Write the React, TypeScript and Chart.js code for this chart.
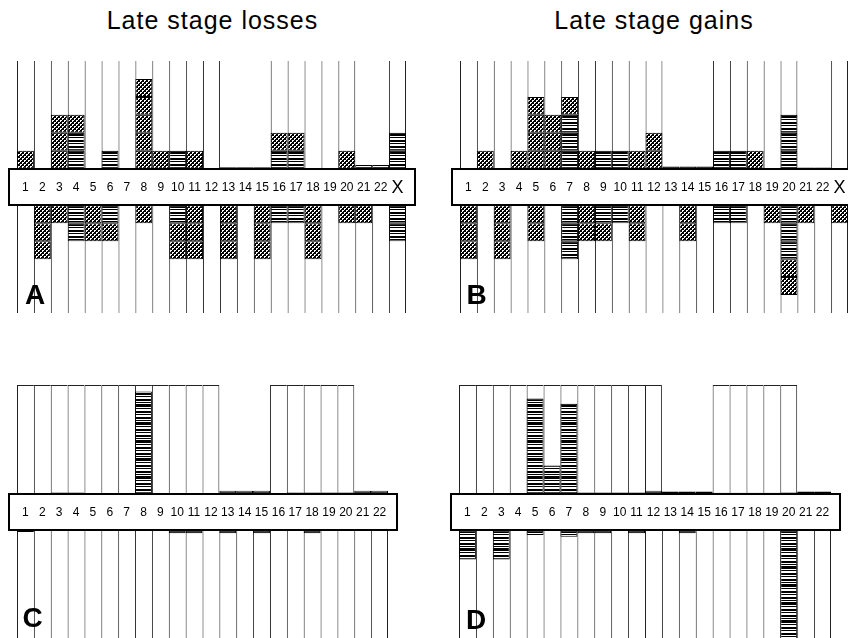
import React, { useEffect, useRef } from "react";
import { Chart, registerables } from "chart.js";

Chart.register(...registerables);

// ---------- data ----------
const LABELS_WITH_X = ["1","2","3","4","5","6","7","8","9","10","11","12","13","14","15","16","17","18","19","20","21","22","X"];
const LABELS_AUTO = ["1","2","3","4","5","6","7","8","9","10","11","12","13","14","15","16","17","18","19","20","21","22"];
const ACROCENTRIC = ["13","14","15","21","22"];

const TITLE_LEFT = "Late stage losses";
const TITLE_RIGHT = "Late stage gains";

// Panel A (late stage losses) – counts of cases
const A_UP_STRIPE   = [0,0,0,2,0,1,0,0,0,1,0,0,0.08,0.08,0.08,1,1,0,0,0,0.2,0.2,2];
const A_UP_HATCH    = [1,0,3,1,0,0,0,5,1,0,1,0,0,0,0,1,1,0,0,1,0,0,0];
const A_DOWN_STRIPE = [0,0,0,2,0,1,0,0,0,1,0,0,0,0,0,1,1,0,0,0,0,0,2];
const A_DOWN_HATCH  = [0,3,1,0,2,1,0,1,0,2,3,0,3,0,3,0,0,3,0,1,1,0,0];

// Panel B (late stage gains)
const B_UP_STRIPE   = [0,0,0,0,0,0,3,0,1,1,0,0,0.12,0.12,0.12,1,1,0,0,3,0.06,0.06,0];
const B_UP_HATCH    = [0,1,0,1,4,3,1,1,0,0,1,2,0,0,0,0,0,1,0,0,0,0,0];
const B_DOWN_STRIPE = [0,0,0,0,0,0,3,0,1,1,0,0,0,0,0,1,1,0,0,3,0,0,0];
const B_DOWN_HATCH  = [3,0,3,0,2,0,0,2,1,0,2,0,0,2,0,0,0,0,1,2,1,0,1];

// Panel C (losses)
const C_UP_STRIPE   = [0,0,0.06,0.06,0,0,0,5.64,0,0,0,0,0.15,0.15,0.15,0,0.06,0.06,0.06,0.06,0.15,0.15];
const C_UP_HATCH    = [0,0,0,0,0,0,0,0,0,0,0,0,0,0,0,0,0,0,0,0,0,0];
const C_DOWN_STRIPE = [0.08,0,0,0,0,0,0,0,0,0.15,0.15,0,0.15,0,0.15,0,0,0.15,0,0,0,0];
const C_DOWN_HATCH  = [0,0,0,0,0,0,0,0,0,0,0,0,0,0,0,0,0,0,0,0,0,0];

// Panel D (gains)
const D_UP_STRIPE   = [0,0,0,0,5.25,1.55,4.97,0.06,0.06,0.06,0.06,0.15,0.12,0.12,0.12,0.04,0.04,0.04,0.04,0.06,0.12,0.12];
const D_UP_HATCH    = [0,0,0,0,0,0,0,0,0,0,0,0,0,0,0,0,0,0,0,0,0,0];
const D_DOWN_STRIPE = [1.6,0,1.6,0,0.25,0,0.35,0.15,0.15,0,0.15,0,0,0.15,0,0,0,0,0,6,0,0];
const D_DOWN_HATCH  = [0,0,0,0,0,0,0,0,0,0,0,0,0,0,0,0,0,0,0,0,0,0];

// ---------- geometry ----------
const BOX = 1.02; // half height of label box, in case units
const ARM = 6;    // arm length, in case units
const FONT = '"Liberation Sans", Arial, Helvetica, sans-serif';

type Panel = {
  letter: string;
  labels: string[];
  upStripe: number[]; upHatch: number[]; downStripe: number[]; downHatch: number[];
  topLine: boolean;
  unitBlocks: boolean;
  canvas: { left: number; top: number; width: number; height: number };
  area: { left: number; top: number; right: number; bottom: number };
  letterPos: { x: number; y: number };
};

const PANELS: Panel[] = [
  {
    letter: "A", labels: LABELS_WITH_X,
    upStripe: A_UP_STRIPE, upHatch: A_UP_HATCH, downStripe: A_DOWN_STRIPE, downHatch: A_DOWN_HATCH,
    topLine: false, unitBlocks: true,
    canvas: { left: 0, top: 50, width: 430, height: 275 },
    area: { left: 17, top: 61, right: 406, bottom: 313 },
    letterPos: { x: 35, y: 305 },
  },
  {
    letter: "B", labels: LABELS_WITH_X,
    upStripe: B_UP_STRIPE, upHatch: B_UP_HATCH, downStripe: B_DOWN_STRIPE, downHatch: B_DOWN_HATCH,
    topLine: false, unitBlocks: true,
    canvas: { left: 440, top: 50, width: 420, height: 275 },
    area: { left: 460, top: 61, right: 848, bottom: 313 },
    letterPos: { x: 476.5, y: 305 },
  },
  {
    letter: "C", labels: LABELS_AUTO,
    upStripe: C_UP_STRIPE, upHatch: C_UP_HATCH, downStripe: C_DOWN_STRIPE, downHatch: C_DOWN_HATCH,
    topLine: true, unitBlocks: false,
    canvas: { left: 0, top: 375, width: 410, height: 270 },
    area: { left: 17, top: 385, right: 388, bottom: 639 },
    letterPos: { x: 32.5, y: 628 },
  },
  {
    letter: "D", labels: LABELS_AUTO,
    upStripe: D_UP_STRIPE, upHatch: D_UP_HATCH, downStripe: D_DOWN_STRIPE, downHatch: D_DOWN_HATCH,
    topLine: true, unitBlocks: false,
    canvas: { left: 440, top: 375, width: 410, height: 270 },
    area: { left: 459, top: 385, right: 831, bottom: 639 },
    letterPos: { x: 476, y: 630 },
  },
];

// ---------- patterns ----------
function makeHatch(ctx: CanvasRenderingContext2D): CanvasPattern | string {
  const t = document.createElement("canvas");
  t.width = 4; t.height = 4;
  const c = t.getContext("2d")!;
  c.fillStyle = "#fff"; c.fillRect(0, 0, 4, 4);
  c.fillStyle = "#000";
  for (let y = 0; y < 4; y++) for (let x = 0; x < 4; x++) {
    if ((x + y) % 4 < 2 || (x - y + 8) % 4 === 0) c.fillRect(x, y, 1, 1);
  }
  return ctx.createPattern(t, "repeat") || "#555";
}

function makeStripe(ctx: CanvasRenderingContext2D): CanvasPattern | string {
  const rows = [1,1,0,1,0,0,1,1,0,1,0,1,1,1,0,1,0,0];
  const t = document.createElement("canvas");
  t.width = 4; t.height = rows.length;
  const c = t.getContext("2d")!;
  c.fillStyle = "#fff"; c.fillRect(0, 0, 4, rows.length);
  c.fillStyle = "#000";
  rows.forEach((r, i) => { if (r) c.fillRect(0, i, 4, 1); });
  return ctx.createPattern(t, "repeat") || "#333";
}

type Block = { lo: number; hi: number; kind: "s" | "h" };

function blocksFor(stripe: number, hatch: number, unit: boolean): Block[] {
  const out: Block[] = [];
  let pos = 0;
  const push = (len: number, kind: "s" | "h") => {
    let rem = len;
    while (rem > 1e-6) {
      const step = unit ? Math.min(1, rem) : rem;
      out.push({ lo: pos, hi: pos + step, kind });
      pos += step; rem -= step;
    }
  };
  push(stripe, "s");
  push(hatch, "h");
  return out;
}

function PanelChart({ p }: { p: Panel }) {
  const ref = useRef<HTMLCanvasElement | null>(null);
  useEffect(() => {
    const canvas = ref.current!;
    const ctx = canvas.getContext("2d")!;
    const hatch = makeHatch(ctx);
    const stripe = makeStripe(ctx);
    const n = p.labels.length;
    const hasTop = p.labels.map((l) => !ACROCENTRIC.includes(l));

    const common = {
      type: "bar" as const,
      barPercentage: 1,
      categoryPercentage: 1,
      grouped: false,
      borderSkipped: false,
      inflateAmount: 0,
    };

    const datasets: any[] = [];
    // background chromosome columns (p arm above, q arm below)
    datasets.push({
      ...common,
      data: p.labels.map((_, i) => (hasTop[i] ? [BOX, BOX + ARM] : null)),
      backgroundColor: "#fff",
      borderColor: "#222",
      borderWidth: (c: any) => {
        const i = c.dataIndex;
        const nextMissing = i === n - 1 || !hasTop[i + 1];
        return { left: 1, right: nextMissing ? 1 : 0, top: p.topLine ? 1 : 0, bottom: 0 };
      },
      order: 10,
    });
    datasets.push({
      ...common,
      data: p.labels.map(() => [-(BOX + ARM), -BOX]),
      backgroundColor: "#fff",
      borderColor: "#222",
      borderWidth: (c: any) => ({ left: 1, right: c.dataIndex === n - 1 ? 1 : 0, top: 0, bottom: 0 }),
      order: 10,
    });

    const dirs: { sign: 1 | -1; s: number[]; h: number[] }[] = [
      { sign: 1, s: p.upStripe, h: p.upHatch },
      { sign: -1, s: p.downStripe, h: p.downHatch },
    ];
    for (const d of dirs) {
      const cols = p.labels.map((_, i) => blocksFor(d.s[i] || 0, d.h[i] || 0, p.unitBlocks));
      const levels = Math.max(0, ...cols.map((c) => c.length));
      for (let j = 0; j < levels; j++) {
        datasets.push({
          ...common,
          data: cols.map((c) => {
            const b = c[j];
            if (!b) return null;
            return d.sign > 0 ? [BOX + b.lo, BOX + b.hi] : [-(BOX + b.hi), -(BOX + b.lo)];
          }),
          backgroundColor: cols.map((c) => (c[j] ? (c[j].kind === "h" ? hatch : stripe) : "#fff")),
          borderColor: "#000",
          borderWidth: 1,
          order: 1,
        });
      }
    }

    const boxPlugin = {
      id: "labelBox" + p.letter,
      afterDatasetsDraw(chart: any) {
        const g = chart.ctx as CanvasRenderingContext2D;
        const area = chart.chartArea;
        const ys = chart.scales.y;
        const xs = chart.scales.x;
        const y0 = Math.round(ys.getPixelForValue(BOX));
        const y1 = Math.round(ys.getPixelForValue(-BOX));
        const x0 = Math.round(area.left - 8);
        const x1 = Math.round(area.right + 9);
        g.save();
        g.fillStyle = "#fff";
        g.fillRect(x0, y0, x1 - x0, y1 - y0);
        g.strokeStyle = "#000";
        g.lineWidth = 2;
        g.strokeRect(x0, y0, x1 - x0, y1 - y0);
        g.fillStyle = "#000";
        g.textAlign = "center";
        g.textBaseline = "middle";
        const cy = (y0 + y1) / 2 + 1;
        p.labels.forEach((lab, i) => {
          const x = xs.getPixelForValue(i);
          if (lab === "X") {
            g.font = `18px ${FONT}`;
            g.fillText(lab, x, cy);
          } else {
            g.font = `12px ${FONT}`;
            g.fillText(lab, x, cy);
          }
        });
        g.restore();
      },
    };

    const chart = new Chart(canvas, {
      type: "bar",
      data: { labels: p.labels, datasets },
      options: {
        responsive: false,
        animation: false,
        devicePixelRatio: 1,
        events: [],
        layout: {
          padding: {
            left: p.area.left - p.canvas.left,
            right: p.canvas.left + p.canvas.width - p.area.right,
            top: p.area.top - p.canvas.top,
            bottom: p.canvas.top + p.canvas.height - p.area.bottom,
          },
        },
        plugins: { legend: { display: false }, tooltip: { enabled: false } },
        scales: {
          x: { type: "category", display: false, offset: true },
          y: { type: "linear", display: false, min: -(BOX + ARM), max: BOX + ARM },
        },
      } as any,
      plugins: [boxPlugin],
    });
    return () => chart.destroy();
  }, [p]);

  return (
    <canvas
      ref={ref}
      width={p.canvas.width}
      height={p.canvas.height}
      style={{ position: "absolute", left: p.canvas.left, top: p.canvas.top, width: p.canvas.width, height: p.canvas.height }}
    />
  );
}

export default function App() {
  const titleStyle: React.CSSProperties = {
    position: "absolute", top: 8, width: 400, textAlign: "center",
    fontFamily: FONT, fontSize: 25, lineHeight: "25px", letterSpacing: 1, color: "#000",
  };
  return (
    <div style={{ position: "fixed", left: 0, top: 0, width: 848, height: 638, overflow: "hidden", background: "#fff" }}>
      <div style={{ ...titleStyle, left: 212.5 - 200 }}>{TITLE_LEFT}</div>
      <div style={{ ...titleStyle, left: 654 - 200 }}>{TITLE_RIGHT}</div>
      {PANELS.map((p) => (
        <PanelChart key={p.letter} p={p} />
      ))}
      {PANELS.map((p) => (
        <div
          key={"l" + p.letter}
          style={{
            position: "absolute", left: p.letterPos.x - 20, top: p.letterPos.y - 23.7, width: 40,
            textAlign: "center", fontFamily: FONT, fontWeight: "bold", fontSize: 28, lineHeight: "28px", color: "#000",
          }}
        >
          {p.letter}
        </div>
      ))}
    </div>
  );
}
